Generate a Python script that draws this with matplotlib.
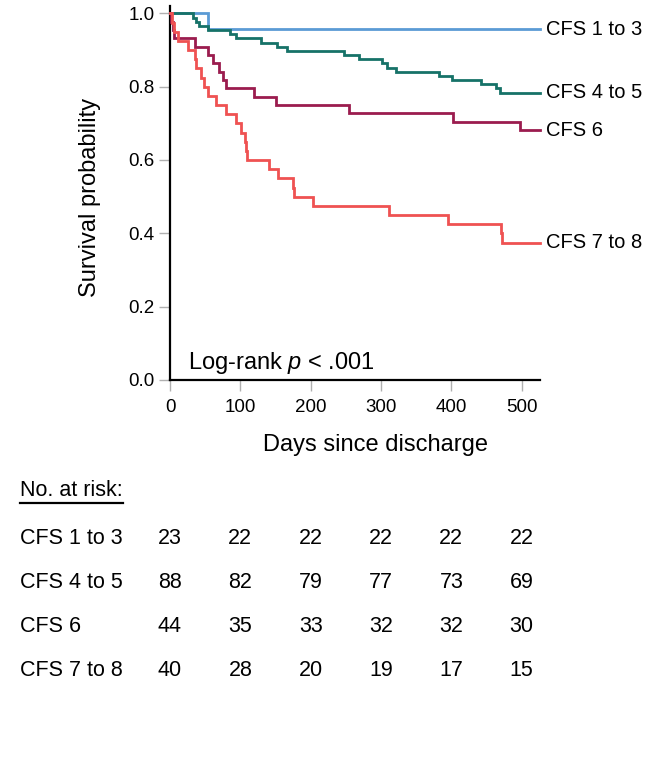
import matplotlib
matplotlib.use("Agg")
import matplotlib.pyplot as plt
import matplotlib.transforms as mtransforms
from matplotlib.lines import Line2D

plt.rcParams['font.family'] = ['Liberation Sans', 'DejaVu Sans']
plt.rcParams['mathtext.fontset'] = 'custom'
plt.rcParams['mathtext.rm'] = 'Liberation Sans'
plt.rcParams['mathtext.it'] = 'Liberation Sans:italic'

# ---- data ----
groups = ["CFS 1 to 3", "CFS 4 to 5", "CFS 6", "CFS 7 to 8"]
group_n = [23, 88, 44, 40]
colors = ["#5b9bd5", "#167268", "#9b1c4e", "#ef5252"]

events_cfs13 = [54]
events_cfs45 = [32, 37, 41, 54, 85, 94, 130, 152, 166, 247, 268, 301, 308,
                321, 383, 401, 442, 464, 469]
events_cfs6 = [2, 4, 6, 35, 54, 61, 70, 76, 80, 120, 150, 255, 402, 497]
events_cfs78 = [2.5, 5, 11, 25, 35, 37, 44, 49, 54, 66, 80, 94, 101, 107,
                108, 109, 141, 153, 175, 176, 204, 312, 395, 470, 472]
event_lists = [events_cfs13, events_cfs45, events_cfs6, events_cfs78]

risk_times = [0, 100, 200, 300, 400, 500]
at_risk = {
    "CFS 1 to 3": [23, 22, 22, 22, 22, 22],
    "CFS 4 to 5": [88, 82, 79, 77, 73, 69],
    "CFS 6": [44, 35, 33, 32, 32, 30],
    "CFS 7 to 8": [40, 28, 20, 19, 17, 15],
}
x_max = 526

# ---- figure ----
W, H = 646, 758
fig = plt.figure(figsize=(W / 100, H / 100), dpi=100)
ax = fig.add_axes([170 / W, 1 - 380 / H, 370 / W, 374 / H])


def km_curve(times, n):
    xs, ys = [0.0], [1.0]
    s = 1.0
    remaining = n
    for t in sorted(times):
        s *= (remaining - 1) / remaining
        remaining -= 1
        xs.append(t)
        ys.append(s)
    xs.append(x_max)
    ys.append(s)
    return xs, ys


for name, n, ev, c in zip(groups, group_n, event_lists, colors):
    xs, ys = km_curve(ev, n)
    ax.step(xs, ys, where="post", color=c, lw=2.0, solid_joinstyle="miter",
            clip_on=False, zorder=3)
    ax.text(x_max + 8, ys[-1], name, fontsize=14.5, ha="left", va="center",
            clip_on=False)

ax.set_xlim(0, x_max)
ax.set_ylim(0, 1.02)
ax.set_xticks(risk_times)
ax.set_yticks([0, 0.2, 0.4, 0.6, 0.8, 1.0])
ax.set_yticklabels([f"{v:.1f}" for v in [0, 0.2, 0.4, 0.6, 0.8, 1.0]])
ax.tick_params(axis="both", colors="#b0b0b0", labelcolor="black",
               labelsize=13.5, length=8, width=1)
ax.tick_params(axis="x", pad=6)
ax.tick_params(axis="y", pad=3)
for s in ["top", "right"]:
    ax.spines[s].set_visible(False)
for s in ["left", "bottom"]:
    ax.spines[s].set_linewidth(1.6)
    ax.spines[s].set_color("black")

ax.text(26, 0.045, "Log-rank $p$ < .001", fontsize=17, ha="left", va="center")

fig.text(90 / W, 1 - 197 / H, "Survival probability", rotation=90,
         fontsize=17, ha="center", va="center")
fig.text(376 / W, 1 - 445 / H, "Days since discharge", fontsize=17,
         ha="center", va="center")

# ---- number-at-risk table ----
fig.text(20 / W, 1 - 491 / H, "No. at risk:", fontsize=15.5, ha="left",
         va="center")
fig.add_artist(Line2D([20 / W, 123 / W], [1 - 503 / H, 1 - 503 / H],
                      transform=fig.transFigure, color="black", lw=1.6))
trans = mtransforms.blended_transform_factory(ax.transData, fig.transFigure)
row_y = [539, 583, 627, 671]
for name, yy in zip(groups, row_y):
    fig.text(20 / W, 1 - yy / H, name, fontsize=15.5, ha="left", va="center")
    for t, v in zip(risk_times, at_risk[name]):
        ax.text(t, 1 - yy / H, str(v), fontsize=15.5, ha="center",
                va="center", transform=trans, clip_on=False)

fig.savefig("out.png", dpi=100)
